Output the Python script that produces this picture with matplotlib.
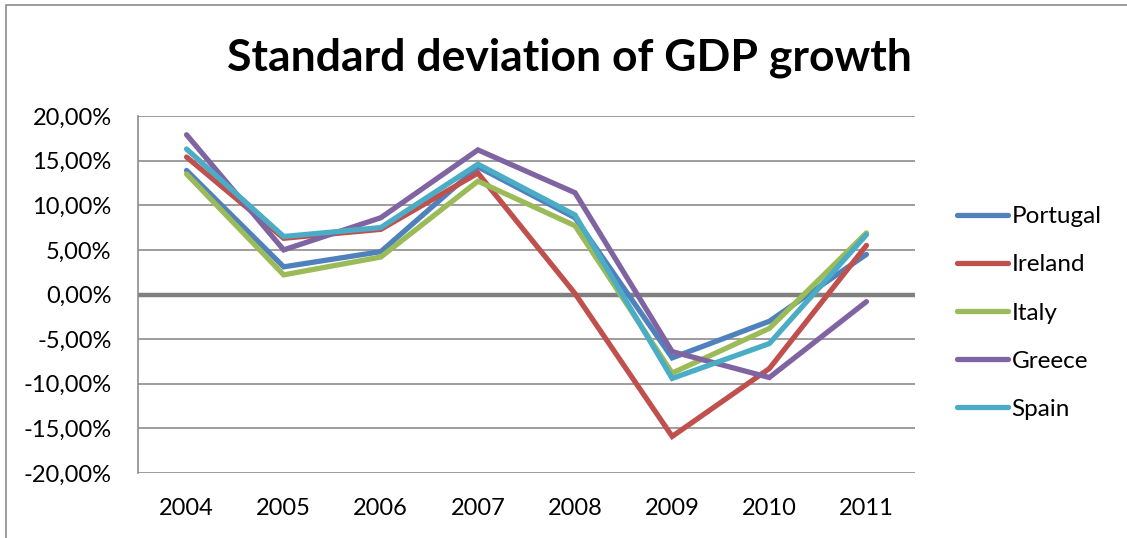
import matplotlib
matplotlib.use("Agg")
import matplotlib.pyplot as plt
import matplotlib.ticker as ticker
from matplotlib.patches import Rectangle

# GDP growth standard deviation per country, in percent
years = [2004, 2005, 2006, 2007, 2008, 2009, 2010, 2011]
portugal = [13.9, 3.1, 4.8, 14.3, 8.6, -7.1, -3.0, 4.5]
ireland = [15.4, 6.3, 7.3, 13.6, 0.1, -15.9, -8.3, 5.5]
italy = [13.5, 2.2, 4.2, 12.7, 7.7, -8.8, -3.8, 6.9]
greece = [17.9, 5.0, 8.6, 16.2, 11.4, -6.4, -9.3, -0.8]
spain = [16.3, 6.5, 7.5, 14.6, 8.9, -9.4, -5.5, 6.7]

names = ["Portugal", "Ireland", "Italy", "Greece", "Spain"]
colours = ["#4F81BD", "#C0504D", "#9BBB59", "#8064A2", "#4BACC6"]

plt.rcParams['font.family'] = ['Lato', 'DejaVu Sans']

W, H = 1127, 538
fig = plt.figure(figsize=(W / 100, H / 100), dpi=100)

# chart frame
fig.patches.append(Rectangle((6 / W, -0.05), 1.2, (H - 5) / H + 0.05,
                             transform=fig.transFigure, fill=False,
                             edgecolor="#8c8c8c", linewidth=1.2))

ax = fig.add_axes([138 / W, (H - 473) / H, (915 - 138) / W, (473 - 116) / H])

x = list(range(len(years)))
for vals, name, col in zip([portugal, ireland, italy, greece, spain], names, colours):
    ax.plot(x, vals, color=col, linewidth=3.8, label=name,
            solid_joinstyle="miter", solid_capstyle="round", zorder=3)

ax.set_xlim(-0.5, len(years) - 0.5)
ax.set_ylim(-20, 20)
ax.set_yticks(range(-20, 21, 5))
ax.yaxis.set_major_formatter(ticker.FuncFormatter(
    lambda v, p: ("%.2f%%" % v).replace(".", ",")))
ax.set_xticks(x)
ax.set_xticklabels([str(y) for y in years])
ax.tick_params(axis="both", length=0, labelsize=17)
ax.tick_params(axis="y", pad=19)
ax.tick_params(axis="x", pad=18)

for v in range(-20, 21, 5):
    if v == 0:
        ax.axhline(v, color="#808080", linewidth=3.2, zorder=2)
    else:
        ax.axhline(v, color="#8c8c8c", linewidth=1.2, zorder=1)

for s in ["top", "right", "bottom"]:
    ax.spines[s].set_visible(False)
ax.spines["left"].set_color("#8c8c8c")
ax.spines["left"].set_linewidth(1.2)

fig.text(569 / W, (H - 58) / H, "Standard deviation of GDP growth",
         ha="center", va="center", fontsize=32, fontweight="bold")

fig.legend(loc="center left", bbox_to_anchor=(947 / W, (H - 313) / H),
           frameon=False, fontsize=17.5, handlelength=2.1, handletextpad=0.15,
           labelspacing=1.12, borderaxespad=0)

fig.savefig("out.png", dpi=100)
